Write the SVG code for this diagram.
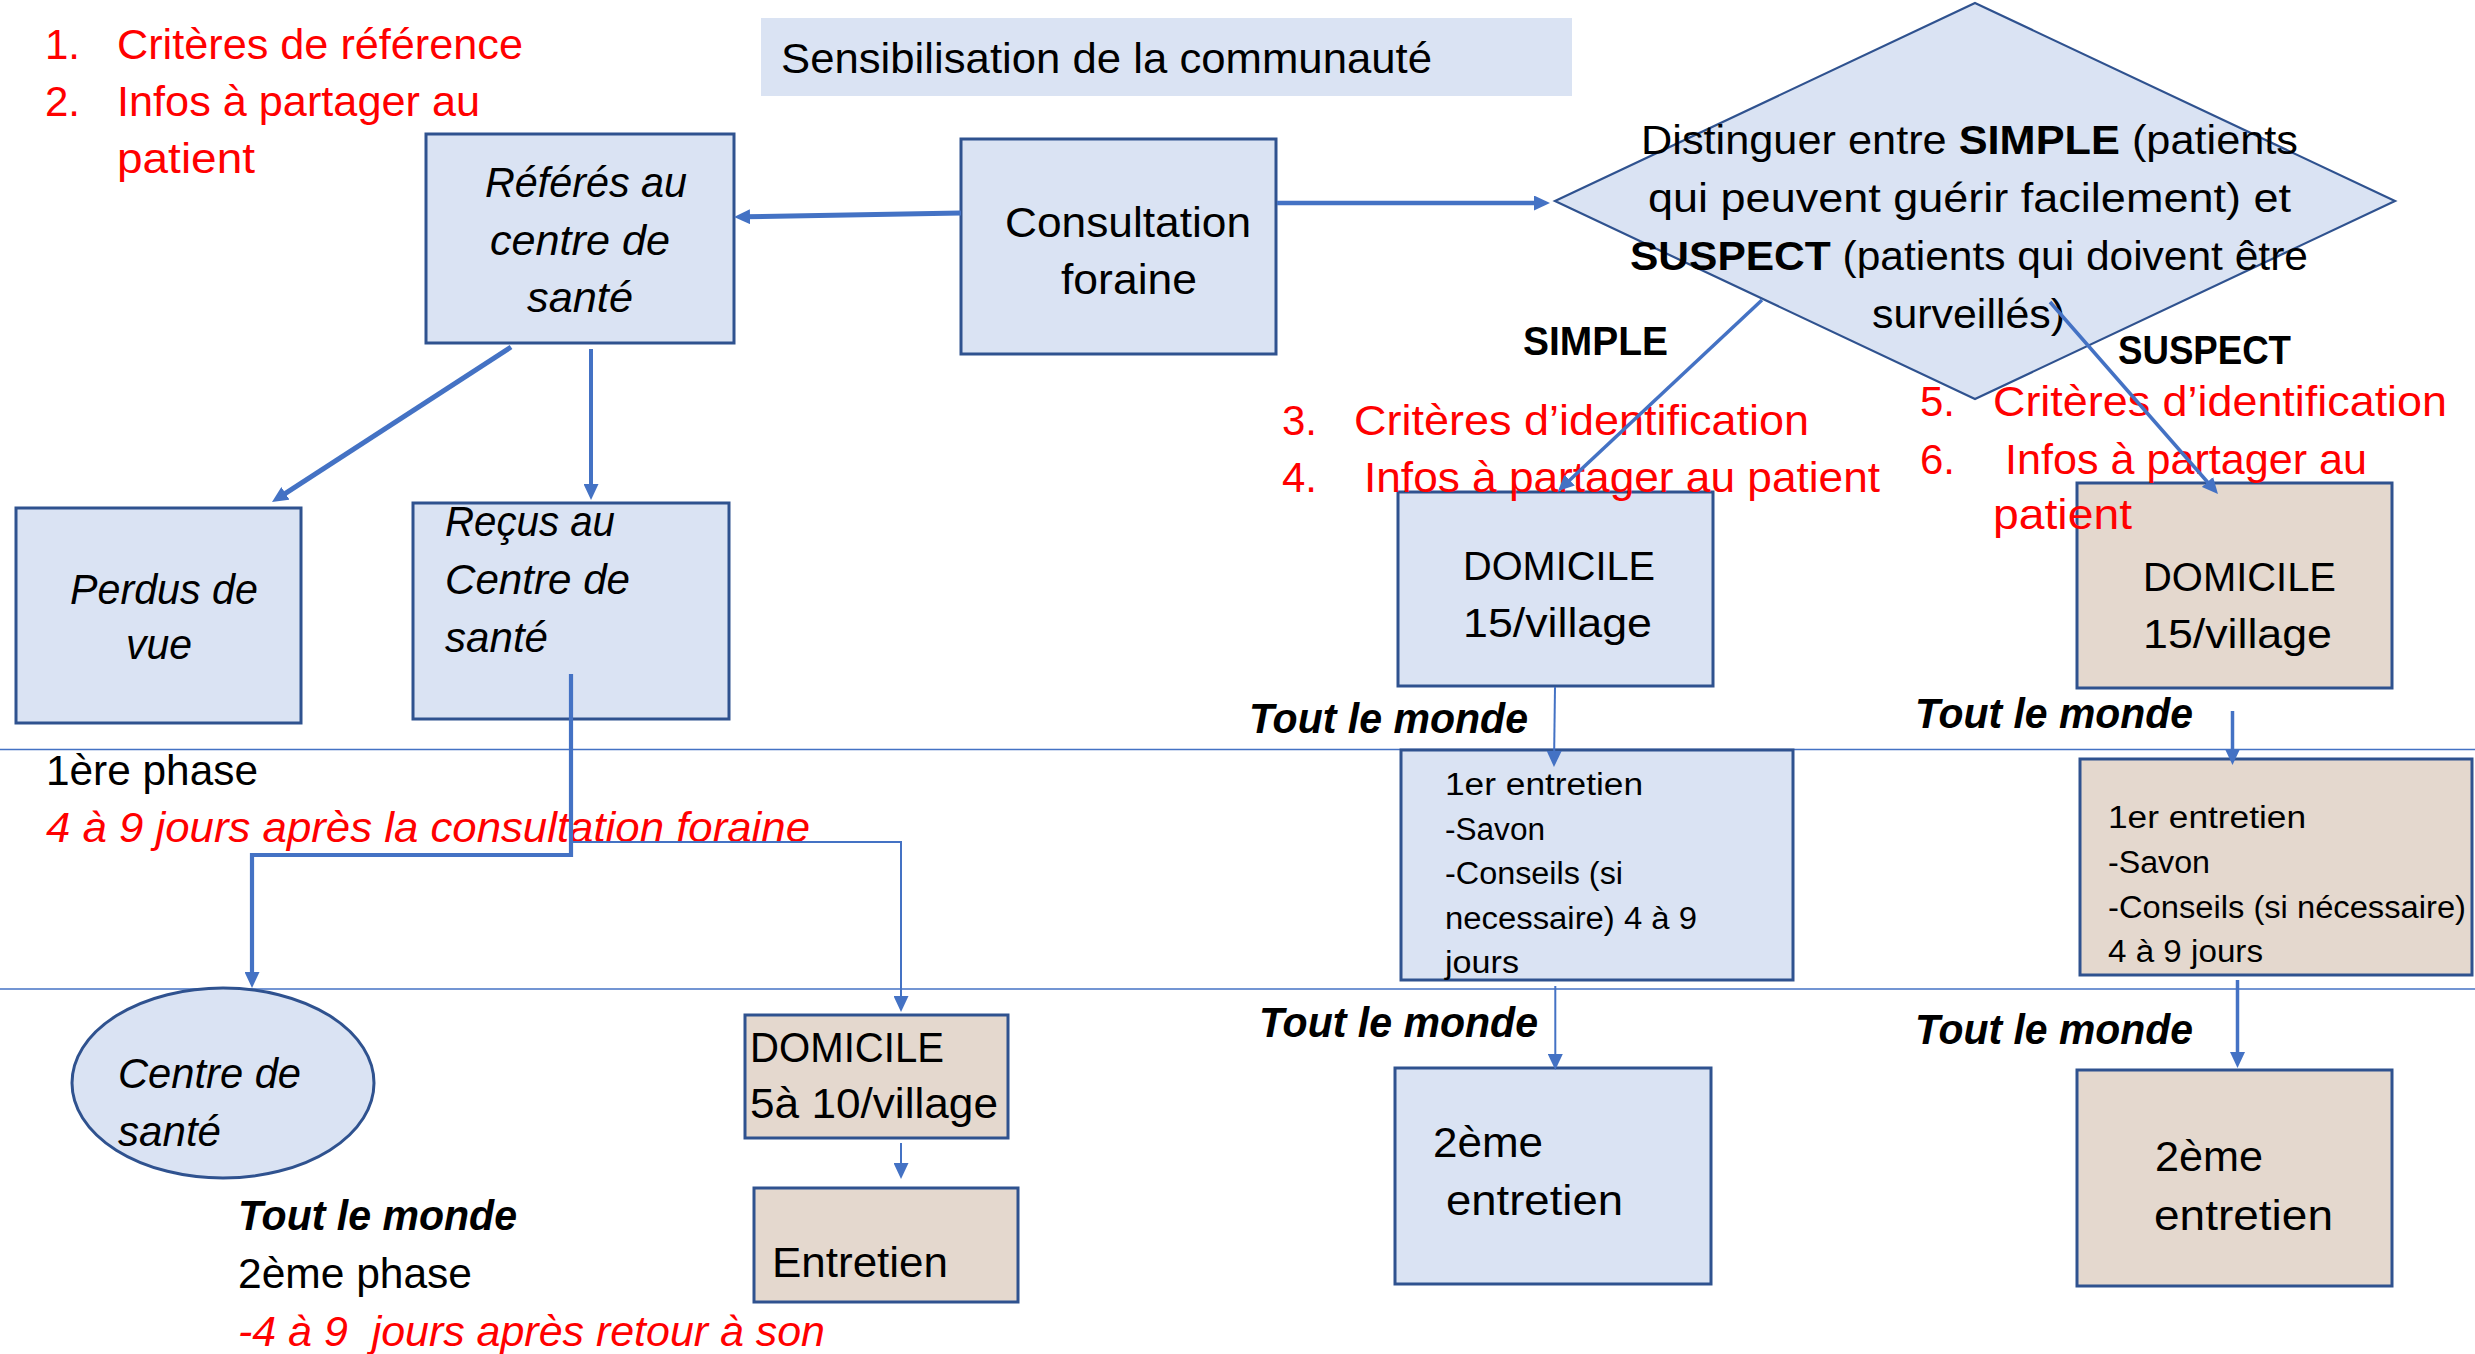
<svg xmlns="http://www.w3.org/2000/svg" width="2475" height="1354" viewBox="0 0 2475 1354">
<style>
.bx{fill:#DAE3F3;stroke:#2F528F;stroke-width:3}
.tn{fill:#E4D8CE;stroke:#2F528F;stroke-width:3}
text{font-family:'Liberation Sans',Arial,sans-serif;font-size:42px;fill:#000}
.i{font-style:italic}
.b{font-weight:bold}
.r{fill:#FF0000}
.s{font-size:31px}
.m{font-size:40px}
.c{stroke:#4472C4;fill:none}
.ph{stroke:#4472C4;stroke-width:1.4}
</style>
<defs>
<marker id="ah" viewBox="0 0 16 15" refX="6" refY="7.5" markerWidth="16" markerHeight="15" markerUnits="userSpaceOnUse" orient="auto">
<path d="M0,0 L16,7.5 L0,15 z" fill="#4472C4"/>
</marker>
</defs>
<rect width="2475" height="1354" fill="#FFFFFF"/>
<g id="phase-lines">
<line class="ph" x1="0" y1="749.5" x2="2475" y2="749.5"/>
<line class="ph" x1="0" y1="989" x2="2475" y2="989"/>
</g>
<g id="notes-left">
<text class="r" x="45" y="59">1.</text>
<text class="r" x="117" y="59" textLength="406" lengthAdjust="spacingAndGlyphs">Critères de référence</text>
<text class="r" x="45" y="116">2.</text>
<text class="r" x="117" y="116" textLength="363" lengthAdjust="spacingAndGlyphs">Infos à partager au</text>
<text class="r" x="117" y="173" textLength="138" lengthAdjust="spacingAndGlyphs">patient</text>
</g>
<g id="sensibilisation">
<rect x="761" y="18" width="811" height="78" fill="#DAE3F3"/>
<text x="781" y="73" textLength="651" lengthAdjust="spacingAndGlyphs">Sensibilisation de la communauté</text>
</g>
<g id="referes">
<rect class="bx" x="426" y="134" width="308" height="209"/>
<text class="i" x="485" y="197" textLength="202" lengthAdjust="spacingAndGlyphs">Référés au</text>
<text class="i" x="490" y="255" textLength="180" lengthAdjust="spacingAndGlyphs">centre de</text>
<text class="i" x="527" y="312" textLength="106" lengthAdjust="spacingAndGlyphs">santé</text>
</g>
<g id="consultation">
<rect class="bx" x="961" y="139" width="315" height="215"/>
<text x="1005" y="237" textLength="246" lengthAdjust="spacingAndGlyphs">Consultation</text>
<text x="1061" y="294" textLength="136" lengthAdjust="spacingAndGlyphs">foraine</text>
</g>
<g id="distinguer">
<polygon points="1975,3 2395,201 1975,399 1555,201" fill="#DAE3F3" stroke="#2F528F" stroke-width="2.2"/>
<text class="m" x="1641" y="154" textLength="657" lengthAdjust="spacingAndGlyphs">Distinguer entre <tspan class="b">SIMPLE</tspan> (patients</text>
<text class="m" x="1648" y="212" textLength="643" lengthAdjust="spacingAndGlyphs">qui peuvent guérir facilement) et</text>
<text class="m" x="1630" y="270" textLength="678" lengthAdjust="spacingAndGlyphs"><tspan class="b">SUSPECT</tspan> (patients qui doivent être</text>
<text class="m" x="1872" y="328" textLength="193" lengthAdjust="spacingAndGlyphs">surveillés)</text>
</g>
<g id="perdus">
<rect class="bx" x="16" y="508" width="285" height="215"/>
<text class="i" x="70" y="604" textLength="188" lengthAdjust="spacingAndGlyphs">Perdus de</text>
<text class="i" x="126" y="659" textLength="66" lengthAdjust="spacingAndGlyphs">vue</text>
</g>
<g id="recus">
<rect class="bx" x="413" y="503" width="316" height="216"/>
<text class="i" x="445" y="536" textLength="170" lengthAdjust="spacingAndGlyphs">Reçus au</text>
<text class="i" x="445" y="594" textLength="185" lengthAdjust="spacingAndGlyphs">Centre de</text>
<text class="i" x="445" y="652" textLength="103" lengthAdjust="spacingAndGlyphs">santé</text>
</g>
<g id="phase1">
<text x="46" y="785" textLength="212" lengthAdjust="spacingAndGlyphs">1ère phase</text>
<text class="r i" x="46" y="842" textLength="764" lengthAdjust="spacingAndGlyphs">4 à 9 jours après la consultation foraine</text>
</g>
<g id="centre-sante">
<ellipse cx="223" cy="1083" rx="151" ry="95" fill="#DAE3F3" stroke="#2F528F" stroke-width="3"/>
<text class="i" x="118" y="1088" textLength="183" lengthAdjust="spacingAndGlyphs">Centre de</text>
<text class="i" x="118" y="1146" textLength="103" lengthAdjust="spacingAndGlyphs">santé</text>
</g>
<g id="domicile-5-10">
<rect class="tn" x="745" y="1015" width="263" height="123"/>
<text x="750" y="1062" textLength="194" lengthAdjust="spacingAndGlyphs">DOMICILE</text>
<text x="750" y="1118" textLength="248" lengthAdjust="spacingAndGlyphs">5à 10/village</text>
</g>
<g id="entretien">
<rect class="tn" x="754" y="1188" width="264" height="114"/>
<text x="772" y="1277" textLength="176" lengthAdjust="spacingAndGlyphs">Entretien</text>
</g>
<g id="phase2">
<text class="b i" x="238" y="1230" textLength="279" lengthAdjust="spacingAndGlyphs">Tout le monde</text>
<text x="238" y="1288" textLength="234" lengthAdjust="spacingAndGlyphs">2ème phase</text>
<text class="r i" x="238" y="1346" textLength="587" lengthAdjust="spacingAndGlyphs" xml:space="preserve">-4 à 9  jours après retour à son</text>
</g>
<g id="domicile-simple">
<rect class="bx" x="1398" y="492" width="315" height="194"/>
<text class="m" x="1463" y="580" textLength="192" lengthAdjust="spacingAndGlyphs">DOMICILE</text>
<text class="m" x="1463" y="637" textLength="189" lengthAdjust="spacingAndGlyphs">15/village</text>
</g>
<g id="domicile-suspect">
<rect class="tn" x="2077" y="483" width="315" height="205"/>
<text class="m" x="2143" y="591" textLength="193" lengthAdjust="spacingAndGlyphs">DOMICILE</text>
<text class="m" x="2143" y="648" textLength="189" lengthAdjust="spacingAndGlyphs">15/village</text>
</g>
<g id="labels-branches">
<text class="b m" x="1523" y="355" textLength="145" lengthAdjust="spacingAndGlyphs">SIMPLE</text>
<text class="b m" x="2118" y="364" textLength="173" lengthAdjust="spacingAndGlyphs">SUSPECT</text>
<text class="r" x="1282" y="435">3.</text>
<text class="r" x="1354" y="435" textLength="455" lengthAdjust="spacingAndGlyphs">Critères d’identification</text>
<text class="r" x="1282" y="492">4.</text>
<text class="r" x="1364" y="492" textLength="516" lengthAdjust="spacingAndGlyphs">Infos à partager au patient</text>
<text class="r" x="1920" y="416">5.</text>
<text class="r" x="1993" y="416" textLength="454" lengthAdjust="spacingAndGlyphs">Critères d’identification</text>
<text class="r" x="1920" y="474">6.</text>
<text class="r" x="2005" y="474" textLength="362" lengthAdjust="spacingAndGlyphs">Infos à partager au</text>
<text class="r" x="1993" y="529" textLength="139" lengthAdjust="spacingAndGlyphs">patient</text>
</g>
<g id="tout-le-monde-labels">
<text class="b i" x="1249" y="733" textLength="279" lengthAdjust="spacingAndGlyphs">Tout le monde</text>
<text class="b i" x="1915" y="728" textLength="278" lengthAdjust="spacingAndGlyphs">Tout le monde</text>
<text class="b i" x="1259" y="1037" textLength="279" lengthAdjust="spacingAndGlyphs">Tout le monde</text>
<text class="b i" x="1915" y="1044" textLength="278" lengthAdjust="spacingAndGlyphs">Tout le monde</text>
</g>
<g id="entretien1-simple">
<rect class="bx" x="1401" y="750" width="392" height="230"/>
<text class="s" x="1445" y="795" textLength="198" lengthAdjust="spacingAndGlyphs">1er entretien</text>
<text class="s" x="1445" y="840" textLength="100" lengthAdjust="spacingAndGlyphs">-Savon</text>
<text class="s" x="1445" y="884" textLength="178" lengthAdjust="spacingAndGlyphs">-Conseils (si</text>
<text class="s" x="1445" y="929" textLength="252" lengthAdjust="spacingAndGlyphs">necessaire) 4 à 9</text>
<text class="s" x="1445" y="973" textLength="74" lengthAdjust="spacingAndGlyphs">jours</text>
</g>
<g id="entretien1-suspect">
<rect class="tn" x="2080" y="759" width="392" height="216"/>
<text class="s" x="2108" y="828" textLength="198" lengthAdjust="spacingAndGlyphs">1er entretien</text>
<text class="s" x="2108" y="873" textLength="102" lengthAdjust="spacingAndGlyphs">-Savon</text>
<text class="s" x="2108" y="918" textLength="358" lengthAdjust="spacingAndGlyphs">-Conseils (si nécessaire)</text>
<text class="s" x="2108" y="962" textLength="155" lengthAdjust="spacingAndGlyphs">4 à 9 jours</text>
</g>
<g id="entretien2-simple">
<rect class="bx" x="1395" y="1068" width="316" height="216"/>
<text x="1433" y="1157" textLength="110" lengthAdjust="spacingAndGlyphs">2ème</text>
<text x="1446" y="1215" textLength="177" lengthAdjust="spacingAndGlyphs">entretien</text>
</g>
<g id="entretien2-suspect">
<rect class="tn" x="2077" y="1070" width="315" height="216"/>
<text x="2155" y="1171" textLength="108" lengthAdjust="spacingAndGlyphs">2ème</text>
<text x="2154" y="1230" textLength="179" lengthAdjust="spacingAndGlyphs">entretien</text>
</g>
<g id="connectors">
<line class="c" stroke-width="4.5" x1="1277" y1="203" x2="1540" y2="203" marker-end="url(#ah)"/>
<line class="c" stroke-width="5" x1="961" y1="213" x2="744" y2="216.8" marker-end="url(#ah)"/>
<line class="c" stroke-width="5" x1="511" y1="347" x2="280.4" y2="496.6" marker-end="url(#ah)"/>
<line class="c" stroke-width="4" x1="591" y1="349" x2="591" y2="490" marker-end="url(#ah)"/>
<path class="c" stroke-width="4.2" d="M571,674 V855 H252 V978" marker-end="url(#ah)"/>
<path class="c" stroke-width="2" d="M571,842 H901 V1002" marker-end="url(#ah)"/>
<line class="c" stroke-width="2" x1="901" y1="1143" x2="901" y2="1169" marker-end="url(#ah)"/>
<line class="c" stroke-width="3.5" x1="1762" y1="300" x2="1565.3" y2="484.2" marker-end="url(#ah)"/>
<line class="c" stroke-width="3.5" x1="2050" y1="302" x2="2211.4" y2="486.5" marker-end="url(#ah)"/>
<line class="c" stroke-width="2" x1="1555" y1="687" x2="1554.1" y2="757" marker-end="url(#ah)"/>
<line class="c" stroke-width="3.5" x1="2232.5" y1="711" x2="2232.5" y2="755" marker-end="url(#ah)"/>
<line class="c" stroke-width="2" x1="1555.3" y1="986" x2="1555.3" y2="1060" marker-end="url(#ah)"/>
<line class="c" stroke-width="3.5" x1="2237.5" y1="980" x2="2237.5" y2="1058" marker-end="url(#ah)"/>
</g>
</svg>
